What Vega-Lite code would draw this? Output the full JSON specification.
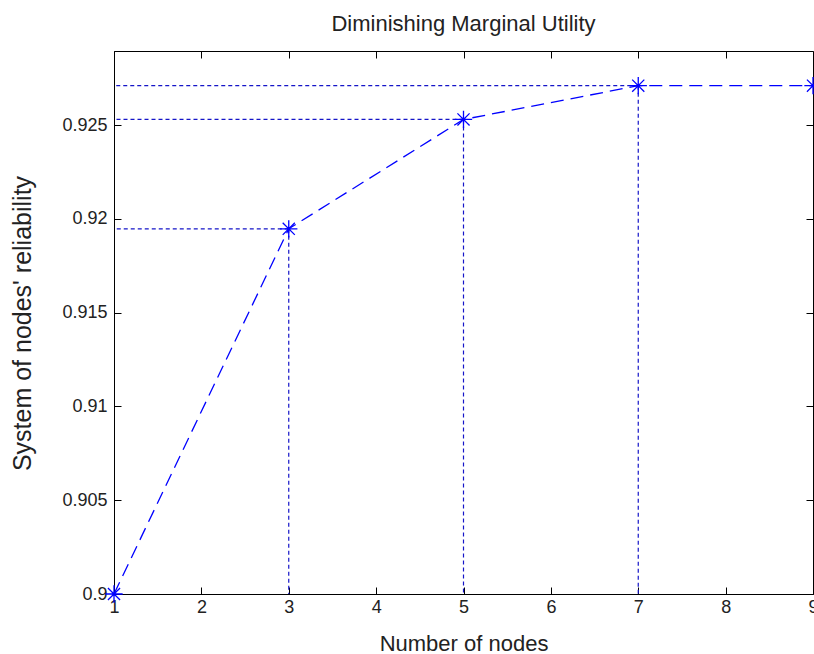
{
  "$schema": "https://vega.github.io/schema/vega-lite/v6.json",
  "autosize": "none",
  "padding": {"left": 114, "top": 51, "right": 1, "bottom": 60},
  "width": 699,
  "height": 543,
  "background": "white",
  "title": {
    "text": "Diminishing Marginal Utility",
    "font": "Liberation Sans",
    "fontSize": 22,
    "fontWeight": "normal",
    "color": "#222",
    "offset": 15
  },
  "datasets": {
    "pts": [
      {"n": 1, "r": 0.9},
      {"n": 3, "r": 0.91947},
      {"n": 5, "r": 0.9253},
      {"n": 7, "r": 0.9271},
      {"n": 9, "r": 0.9271}
    ],
    "refs": [
      {"n": 3, "r": 0.91947},
      {"n": 5, "r": 0.9253},
      {"n": 7, "r": 0.9271}
    ]
  },
  "config": {
    "view": {"stroke": "black", "strokeWidth": 1},
    "axis": {
      "grid": false,
      "domainColor": "black",
      "tickColor": "black",
      "tickSize": -7,
      "labelFlush": false,
      "labelOverlap": false,
      "labelFont": "Liberation Sans",
      "labelFontSize": 18,
      "labelColor": "#222",
      "titleFont": "Liberation Sans",
      "titleFontSize": 22,
      "titleFontWeight": "normal",
      "titleColor": "#222"
    }
  },
  "layer": [
    {
      "data": {"name": "refs"},
      "mark": {"type": "rule", "color": "#1515c8", "strokeDash": [4, 3], "strokeWidth": 1.2},
      "encoding": {
        "x": {
          "field": "n", "type": "quantitative",
          "scale": {"domain": [1, 9], "nice": false, "zero": false},
          "axis": {
            "orient": "bottom",
            "title": "Number of nodes",
            "values": [1, 2, 3, 4, 5, 6, 7, 8, 9],
            "format": "d",
            "labelPadding": 11,
            "titleY": 49,
            "titleBaseline": "middle"
          }
        },
        "x2": {"datum": 1},
        "y": {
          "field": "r", "type": "quantitative",
          "scale": {"domain": [0.9, 0.92895], "nice": false, "zero": false},
          "axis": {
            "orient": "left",
            "title": "System of nodes' reliability",
            "values": [0.9, 0.905, 0.91, 0.915, 0.92, 0.925],
            "format": ".3~f",
            "labelPadding": 14,
            "titleX": -92,
            "titleY": 272,
            "titleBaseline": "middle",
            "titleAlign": "center",
            "titleFontSize": 25
          }
        }
      }
    },
    {
      "data": {"name": "refs"},
      "mark": {"type": "rule", "color": "#1515c8", "strokeDash": [4, 3], "strokeWidth": 1.2},
      "encoding": {
        "x": {
          "field": "n", "type": "quantitative",
          "axis": {
            "orient": "top",
            "title": null,
            "values": [1, 2, 3, 4, 5, 6, 7, 8, 9],
            "labels": false,
            "domain": false
          }
        },
        "y": {
          "field": "r", "type": "quantitative",
          "axis": {
            "orient": "right",
            "title": null,
            "values": [0.9, 0.905, 0.91, 0.915, 0.92, 0.925],
            "labels": false,
            "domain": false
          }
        },
        "y2": {"datum": 0.9}
      }
    },
    {
      "data": {"name": "pts"},
      "mark": {"type": "line", "color": "#0000ff", "strokeDash": [13, 7], "strokeWidth": 1.3},
      "encoding": {
        "x": {"field": "n", "type": "quantitative", "axis": null},
        "y": {"field": "r", "type": "quantitative", "axis": null}
      }
    },
    {
      "data": {"name": "pts"},
      "mark": {
        "type": "point",
        "shape": "M-1,0L1,0M0,-1L0,1M-0.7,-0.7L0.7,0.7M-0.7,0.7L0.7,-0.7",
        "filled": false,
        "color": "#0000ff",
        "strokeWidth": 1.3,
        "size": 300,
        "opacity": 1
      },
      "encoding": {
        "x": {"field": "n", "type": "quantitative", "axis": null},
        "y": {"field": "r", "type": "quantitative", "axis": null}
      }
    }
  ],
  "resolve": {"axis": {"x": "independent", "y": "independent"}}
}
